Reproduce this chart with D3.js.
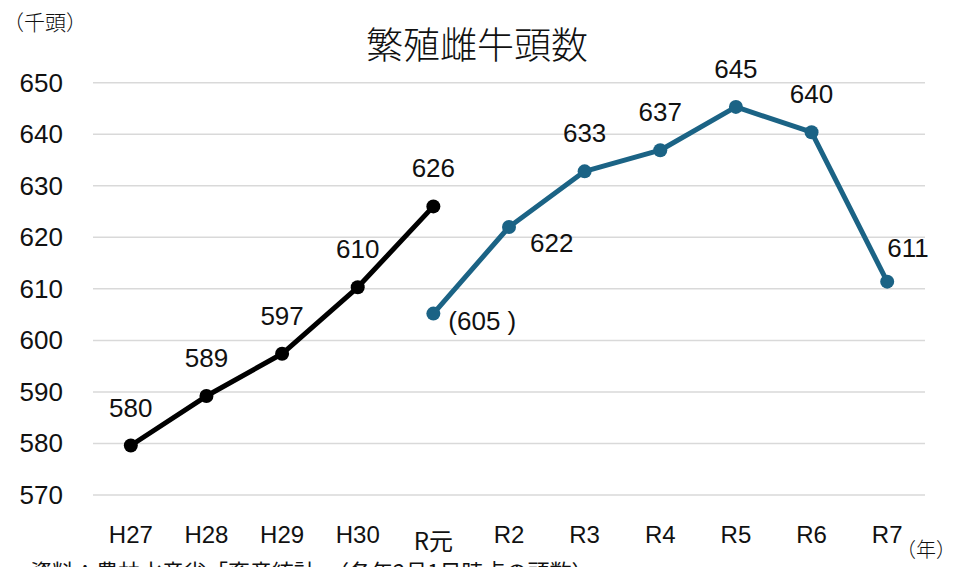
<!DOCTYPE html>
<html>
<head>
<meta charset="utf-8">
<title>繁殖雌牛頭数</title>
<style>
  body { margin: 0; background: #fff; }
  svg { display: block; }
  text { fill: #111; }
  .num { font-family: "Liberation Sans", Arial, sans-serif; }
  .jp { font-family: "Noto Sans CJK JP", sans-serif; }
</style>
</head>
<body>
<div id="chart"></div>
<script src="https://cdn.jsdelivr.net/npm/d3@7"></script>
<script>
// data (thousand head)
var years      = ["H27", "H28", "H29", "H30", "R元", "R2", "R3", "R4", "R5", "R6", "R7"];
var oldValues  = [579.6, 589.2, 597.4, 610.3, 626.0];       // H27 - R元 (old basis)
var oldLabels  = ["580", "589", "597", "610", "626"];
var newValues  = [605.2, 622.0, 632.8, 636.9, 645.3, 640.4, 611.4]; // R元 - R7 (new basis)
var newLabels  = ["(605 )", "622", "633", "637", "645", "640", "611"];
var yTicks     = [570, 580, 590, 600, 610, 620, 630, 640, 650];

// where each label sits relative to its dot
var newLabelPos = ["right", "belowRight", "above", "above", "above", "above", "aboveRight"];

var W = 957, H = 567;
var plotLeft = 93, plotRight = 925, plotTop = 82.7, plotBottom = 495;

var svg = d3.select("#chart").append("svg")
    .attr("width", W)
    .attr("height", H);

var x = d3.scaleBand()
    .domain(years)
    .range([plotLeft, plotRight]);

var y = d3.scaleLinear()
    .domain([570, 650])
    .range([plotBottom, plotTop]);

// gridlines
svg.append("g")
  .selectAll("line")
  .data(yTicks)
  .enter().append("line")
    .attr("x1", plotLeft).attr("x2", plotRight)
    .attr("y1", function(d){ return y(d); })
    .attr("y2", function(d){ return y(d); })
    .attr("stroke", "#d9d9d9")
    .attr("stroke-width", 1.5);

// y tick labels
svg.append("g")
  .selectAll("text")
  .data(yTicks)
  .enter().append("text")
    .attr("class", "num")
    .attr("x", 63)
    .attr("y", function(d){ return y(d) + 9; })
    .attr("text-anchor", "end")
    .style("font-size", "26px")
    .text(function(d){ return d; });

// x labels
svg.append("g")
  .selectAll("text")
  .data(years)
  .enter().append("text")
    .attr("class", function(d){ return d == "R元" ? "jp" : "num"; })
    .attr("x", function(d){ return x(d) + x.bandwidth() / 2; })
    .attr("y", function(d){ return d == "R元" ? 550 : 543; })
    .attr("text-anchor", "middle")
    .style("font-size", "24px")
    .text(function(d){ return d; });

var cx = function(i, offset){ return x(years[i + offset]) + x.bandwidth() / 2; };

var line = d3.line()
    .x(function(d){ return d.x; })
    .y(function(d){ return y(d.v); });

var oldPts = oldValues.map(function(v, i){ return {x: cx(i, 0), v: v, label: oldLabels[i], pos: "above"}; });
var newPts = newValues.map(function(v, i){ return {x: cx(i, 4), v: v, label: newLabels[i], pos: newLabelPos[i]}; });

function drawSeries(pts, color){
    svg.append("path")
        .datum(pts)
        .attr("fill", "none")
        .attr("stroke", color)
        .attr("stroke-width", 5)
        .attr("stroke-linejoin", "round")
        .attr("d", line);

    svg.append("g")
      .selectAll("circle")
      .data(pts)
      .enter().append("circle")
        .attr("cx", function(d){ return d.x; })
        .attr("cy", function(d){ return y(d.v); })
        .attr("r", 7)
        .attr("fill", color);

    svg.append("g")
      .selectAll("text")
      .data(pts)
      .enter().append("text")
        .attr("class", "num")
        .style("font-size", "26px")
        .attr("text-anchor", function(d){ return d.pos == "above" ? "middle" : "start"; })
        .attr("x", function(d){
            if (d.pos == "above") return d.x;
            if (d.pos == "right") return d.x + 15;
            if (d.pos == "belowRight") return d.x + 21;
            return d.x;           // aboveRight
        })
        .attr("y", function(d){
            var py = y(d.v);
            if (d.pos == "above") return py - 29;
            if (d.pos == "right") return py + 16;
            if (d.pos == "belowRight") return py + 25;
            return py - 25;       // aboveRight
        })
        .text(function(d){ return d.label; });
}

drawSeries(oldPts, "#000000");
drawSeries(newPts, "#1b6385");

// title and units
svg.append("text")
    .attr("class", "jp")
    .attr("x", 477)
    .attr("y", 59)
    .attr("text-anchor", "middle")
    .style("font-size", "37px")
    .style("font-weight", 300)
    .text("繁殖雌牛頭数");

svg.append("text")
    .attr("class", "jp")
    .attr("x", 3)
    .attr("y", 30)
    .style("font-size", "21px")
    .style("font-weight", 300)
    .text("（千頭）");

svg.append("text")
    .attr("class", "jp")
    .attr("x", 896)
    .attr("y", 557)
    .style("font-size", "20px")
    .style("font-weight", 300)
    .text("（年）");

// source note, cut off by the bottom edge
svg.append("text")
    .attr("class", "jp")
    .attr("x", 30)
    .attr("y", 580)
    .style("font-size", "22px")
    .text("資料：農林水産省「畜産統計」（各年2月1日時点の頭数）");
</script>
</body>
</html>
